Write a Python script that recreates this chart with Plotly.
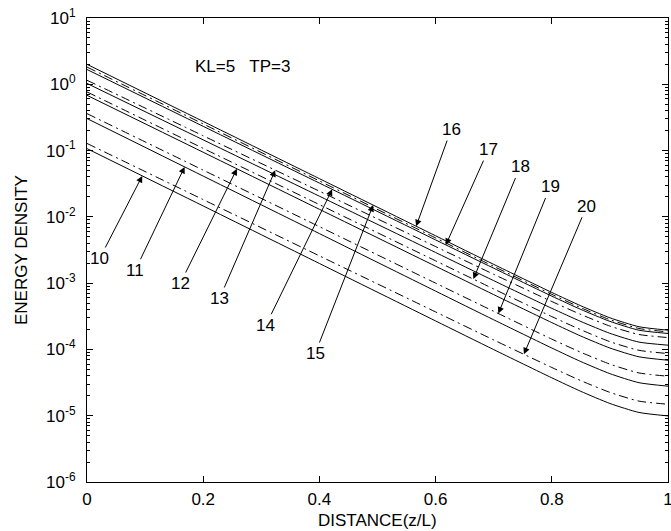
import numpy as np
import plotly.graph_objects as go

# ---------------- data ----------------
distance = [0, 0.2, 0.4, 0.6, 0.7, 0.8, 0.85, 0.9, 0.95, 1.0]

# curves from bottom to top at z=0 (solid / dash-dot alternate)
curve_01 = [0.107, 1.46e-2, 1.98e-3, 2.69e-4, 9.94e-5, 3.73e-5, 2.33e-5, 1.53e-5, 1.12e-5, 9.93e-6]
curve_02 = [0.128, 1.82e-2, 2.58e-3, 3.68e-4, 1.39e-4, 5.34e-5, 3.38e-5, 2.25e-5, 1.66e-5, 1.49e-5]
curve_03 = [0.304, 4.12e-2, 5.59e-3, 7.58e-4, 2.80e-4, 1.05e-4, 6.56e-5, 4.31e-5, 3.15e-5, 2.79e-5]
curve_04 = [0.361, 5.07e-2, 7.12e-3, 1.00e-3, 3.76e-4, 1.43e-4, 9.05e-5, 6.00e-5, 4.42e-5, 3.94e-5]
curve_05 = [0.682, 9.43e-2, 1.30e-2, 1.80e-3, 6.71e-4, 2.54e-4, 1.59e-4, 1.05e-4, 7.74e-5, 6.87e-5]
curve_06 = [0.766, 1.08e-1, 1.53e-2, 2.17e-3, 8.17e-4, 3.13e-4, 1.98e-4, 1.31e-4, 9.70e-5, 8.67e-5]
curve_07 = [1.03, 1.45e-1, 2.05e-2, 2.90e-3, 1.09e-3, 4.17e-4, 2.64e-4, 1.75e-4, 1.29e-4, 1.16e-4]
curve_08 = [1.15, 1.67e-1, 2.44e-2, 3.56e-3, 1.36e-3, 5.28e-4, 3.37e-4, 2.25e-4, 1.68e-4, 1.51e-4]
curve_09 = [1.67, 2.32e-1, 3.23e-2, 4.49e-3, 1.68e-3, 6.37e-4, 4.01e-4, 2.65e-4, 1.95e-4, 1.74e-4]
curve_10 = [1.82, 2.52e-1, 3.48e-2, 4.81e-3, 1.79e-3, 6.78e-4, 4.26e-4, 2.81e-4, 2.07e-4, 1.84e-4]
curve_11 = [2.00, 2.75e-1, 3.77e-2, 5.18e-3, 1.92e-3, 7.24e-4, 4.55e-4, 3.00e-4, 2.20e-4, 1.95e-4]

curves = [curve_01, curve_02, curve_03, curve_04, curve_05, curve_06,
          curve_07, curve_08, curve_09, curve_10, curve_11]
curve_dash = ["solid", "dd", "solid", "dd", "solid", "dd",
              "solid", "dd", "solid", "dd", "solid"]

# arrow labels
label_text = ["10", "11", "12", "13", "14", "15", "16", "17", "18", "19", "20"]
label_curve = [1, 3, 5, 8, 9, 11, 11, 9, 6, 4, 2]          # curve each arrow points to
label_tip_x = [0.0951, 0.168, 0.258, 0.324, 0.422, 0.4925, 0.5665, 0.6176, 0.665, 0.708, 0.752]
label_pos_x = [0.0217, 0.0831, 0.1605, 0.2281, 0.3079, 0.3927, 0.6267, 0.6909, 0.7454, 0.797, 0.8601]
label_pos_logy = [-2.629, -2.805, -3.006, -3.232, -3.635, -4.062, -0.683, -0.985, -1.247, -1.549, -1.840]

y_tick_vals = [1e-6, 1e-5, 1e-4, 1e-3, 1e-2, 1e-1, 1e0, 1e1]
y_tick_text = ["10<sup>-6</sup>", "10<sup>-5</sup>", "10<sup>-4</sup>", "10<sup>-3</sup>",
               "10<sup>-2</sup>", "10<sup>-1</sup>", "10<sup>0</sup>", "10<sup>1</sup>"]
x_tick_vals = [0, 0.2, 0.4, 0.6, 0.8, 1.0]
x_tick_text = ["0", "0.2", "0.4", "0.6", "0.8", "1"]

x_title = "DISTANCE(z/L)"
y_title = "ENERGY DENSITY"
note_text = "KL=5\u00a0\u00a0\u00a0TP=3"

# ---------------- figure ----------------
FONT = "Liberation Sans, Arial, Helvetica, sans-serif"
DASHDOT = "9px,4px,2px,4px"
FS = 17
L, R, T, B = 87, 3, 18, 49
W, H = 671, 531
PW, PH = W - L - R, H - T - B

fig = go.Figure()
for ys, style in zip(curves, curve_dash):
    fig.add_trace(go.Scatter(
        x=distance, y=ys, mode="lines",
        line=dict(color="black", width=1,
                  dash="solid" if style == "solid" else DASHDOT,
                  shape="spline", smoothing=0.6),
        hoverinfo="skip"))

annotations = []
for txt, ci, tx, px, py in zip(label_text, label_curve, label_tip_x, label_pos_x, label_pos_logy):
    ty = float(np.interp(tx, distance, np.log10(curves[ci - 1])))
    annotations.append(dict(
        x=tx, y=ty, xref="x", yref="y",
        ax=px, ay=py, axref="x", ayref="y",
        text=txt, showarrow=True, arrowhead=2, arrowsize=1.3, arrowwidth=1,
        arrowcolor="black", standoff=0, startstandoff=0,
        font=dict(family=FONT, size=FS, color="black")))

annotations.append(dict(
    x=0.267, y=0.27, xref="x", yref="y", showarrow=False,
    text=note_text, font=dict(family=FONT, size=FS, color="black")))

# axis titles placed in paper coordinates
annotations.append(dict(
    x=0.5, y=-(520 - (H - B)) / PH, xref="paper", yref="paper",
    xanchor="center", yanchor="middle", showarrow=False,
    text=x_title, font=dict(family=FONT, size=FS, color="black")))
annotations.append(dict(
    x=(21 - L) / PW, y=0.5, xref="paper", yref="paper",
    xanchor="center", yanchor="middle", showarrow=False, textangle=-90,
    text=y_title, font=dict(family=FONT, size=FS, color="black")))

minor_vals = [m * 10.0 ** e for e in range(-6, 1) for m in range(2, 10)]

fig.update_layout(
    width=W, height=H,
    margin=dict(l=L, r=R, t=T, b=B, autoexpand=False),
    paper_bgcolor="white", plot_bgcolor="white",
    showlegend=False, hovermode=False,
    font=dict(family=FONT, size=FS, color="black"),
    annotations=annotations,
    xaxis=dict(
        range=[0, 1], tickmode="array", tickvals=x_tick_vals, ticktext=x_tick_text,
        ticks="inside", ticklen=6, tickwidth=1, tickcolor="black",
        showline=True, linecolor="black", linewidth=1, mirror="allticks",
        showgrid=False, zeroline=False, automargin=False,
        ticklabeloverflow="allow", ticklabelstandoff=2,
        tickfont=dict(family=FONT, size=FS)),
    yaxis=dict(
        type="log", range=[-6, 1], tickmode="array", tickvals=y_tick_vals, ticktext=y_tick_text,
        ticks="inside", ticklen=6, tickwidth=1, tickcolor="black",
        minor=dict(tickmode="array", tickvals=minor_vals, ticks="inside", ticklen=3,
                   tickwidth=1, tickcolor="black", showgrid=False),
        showline=True, linecolor="black", linewidth=1, mirror="allticks",
        showgrid=False, zeroline=False, automargin=False,
        ticklabeloverflow="allow", ticklabelstandoff=7,
        tickfont=dict(family=FONT, size=FS)),
)

fig.write_html("out.html", config={"displayModeBar": False, "staticPlot": True})

# remove the browser's default page margin so the figure sits at (0, 0)
with open("out.html", "r", encoding="utf-8") as fh:
    page = fh.read()
page = page.replace("<head>", "<head><style>html,body{margin:0;padding:0;overflow:hidden;}</style>", 1)
with open("out.html", "w", encoding="utf-8") as fh:
    fh.write(page)
